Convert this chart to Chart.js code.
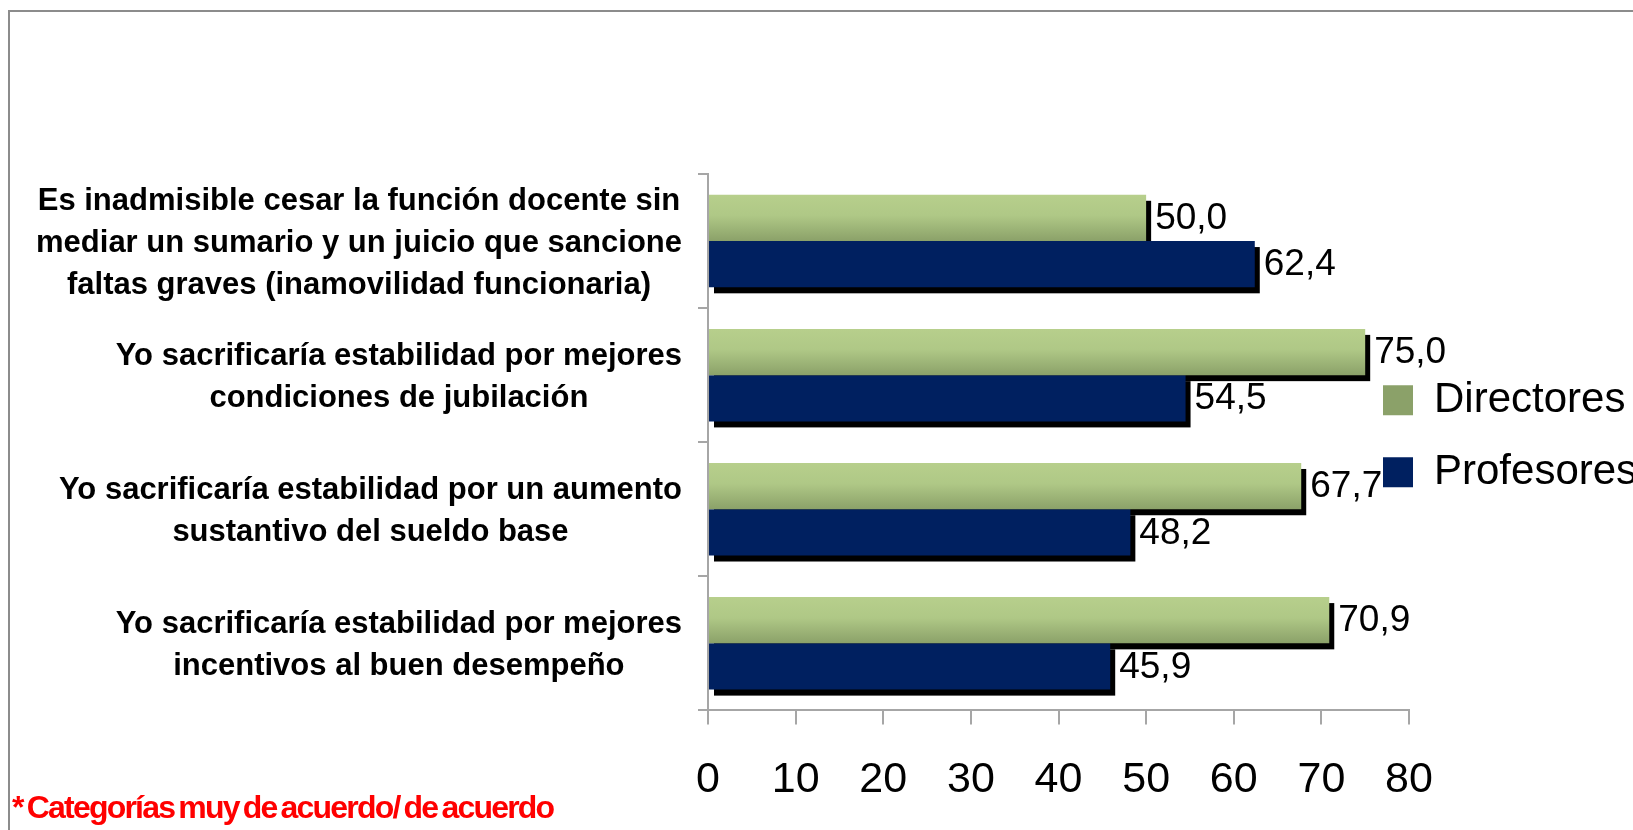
<!DOCTYPE html>
<html>
<head>
<meta charset="utf-8">
<script src="https://cdn.jsdelivr.net/npm/chart.js@4/dist/chart.umd.min.js"></script>
<style>
  html, body { margin: 0; padding: 0; background: #fff; }
  #marco { position: absolute; left: 8px; top: 10px; width: 1625px; height: 820px;
    border-top: 2px solid #8c8c8c; border-left: 2px solid #8c8c8c; }
  #wrap { position: absolute; left: 0; top: 0; width: 1633px; height: 830px; }
  #nota { position: absolute; left: 12px; top: 791px; color: #ff0000; font: bold 32px "Liberation Sans", Arial, sans-serif;
    letter-spacing: -1.8px; word-spacing: -3px; line-height: 1; white-space: nowrap; }
</style>
</head>
<body>
<div id="marco"></div>
<div id="wrap"><canvas id="grafica"></canvas></div>
<div id="nota">* Categorías muy de acuerdo/ de acuerdo</div>
<script>
// categorías (cada una en varias líneas, como en el original)
const categorias = [
  ["Es inadmisible cesar la función docente sin", "mediar un sumario y un juicio que sancione", "faltas graves (inamovilidad funcionaria)"],
  ["Yo sacrificaría estabilidad por mejores", "condiciones de jubilación"],
  ["Yo sacrificaría estabilidad por un aumento", "sustantivo del sueldo base"],
  ["Yo sacrificaría estabilidad por mejores", "incentivos al buen desempeño"]
]
const directores = [50.0, 75.0, 67.7, 70.9]
const profesores = [62.4, 54.5, 48.2, 45.9]
const ejeMin = 0
const ejeMax = 80
const ejePaso = 10

const fuente = "'Liberation Sans', Arial, sans-serif"
Chart.defaults.font.family = fuente
Chart.defaults.color = '#000'

const catPct = 0.69

// degradado verde de las barras de directores
function verdeDegradado(context) {
  const chart = context.chart
  const y = chart.scales.y
  if (context.type !== 'data' || !y || !chart.chartArea) return '#a6bf7e'
  const centro = y.getPixelForValue(context.dataIndex)
  const alto = (y.height / categorias.length) * catPct / 2
  const g = chart.ctx.createLinearGradient(0, centro - alto, 0, centro)
  g.addColorStop(0, '#b7cf8c')
  g.addColorStop(0.45, '#afc886')
  g.addColorStop(1, '#8ba169')
  return g
}

// sombra negra detrás de cada barra
const sombra = {
  id: 'sombra',
  beforeDatasetsDraw(chart) {
    const ctx = chart.ctx
    ctx.save()
    ctx.fillStyle = '#000'
    chart.data.datasets.forEach((ds, i) => {
      chart.getDatasetMeta(i).data.forEach(bar => {
        const {x, y, base, height} = bar.getProps(['x', 'y', 'base', 'height'], true)
        ctx.fillRect(Math.min(x, base) + 5, y - height / 2 + 6, Math.abs(x - base), height)
      })
    })
    ctx.restore()
  }
}

// etiquetas de valor con coma decimal
const etiquetasValor = {
  id: 'etiquetasValor',
  afterDatasetsDraw(chart) {
    const ctx = chart.ctx
    ctx.save()
    ctx.font = '37px ' + fuente
    ctx.fillStyle = '#000'
    ctx.textAlign = 'left'
    ctx.textBaseline = 'middle'
    chart.data.datasets.forEach((ds, i) => {
      chart.getDatasetMeta(i).data.forEach((bar, j) => {
        const {x, y} = bar.getProps(['x', 'y'], true)
        ctx.fillText(ds.data[j].toFixed(1).replace('.', ','), x + 9, y + 1)
      })
    })
    ctx.restore()
  }
}

// etiquetas del eje y: bloque alineado al eje, líneas centradas
const etiquetasEje = {
  id: 'etiquetasEje',
  afterDraw(chart) {
    const ctx = chart.ctx
    const y = chart.scales.y
    ctx.save()
    ctx.font = 'bold 31px ' + fuente
    ctx.fillStyle = '#000'
    ctx.textAlign = 'center'
    ctx.textBaseline = 'middle'
    categorias.forEach((lineas, i) => {
      const ancho = Math.max(...lineas.map(l => ctx.measureText(l).width))
      const cx = y.right - 26 - ancho / 2
      const cy = y.getPixelForValue(i) + 2
      lineas.forEach((l, k) => {
        ctx.fillText(l, cx, cy + (k - (lineas.length - 1) / 2) * 42)
      })
    })
    ctx.restore()
  }
}

// la leyenda se superpone un poco sobre el borde derecho del gráfico
const moverLeyenda = {
  id: 'moverLeyenda',
  afterLayout(chart) {
    const lg = chart.legend
    lg.left = chart.chartArea.right - 56
    lg.right = chart.width
    lg.width = lg.right - lg.left
    lg.top = chart.chartArea.top
    lg.bottom = chart.chartArea.bottom - 12
    lg.height = lg.bottom - lg.top
  }
}

new Chart(document.getElementById('grafica'), {
  type: 'bar',
  data: {
    labels: categorias,
    datasets: [
      {
        label: 'Directores',
        data: directores,
        backgroundColor: verdeDegradado,
        barPercentage: 1,
        categoryPercentage: catPct
      },
      {
        label: 'Profesores',
        data: profesores,
        backgroundColor: '#002060',
        barPercentage: 1,
        categoryPercentage: catPct
      }
    ]
  },
  plugins: [sombra, etiquetasValor, etiquetasEje, moverLeyenda],
  options: {
    indexAxis: 'y',
    responsive: true,
    maintainAspectRatio: false,
    animation: false,
    layout: {
      padding: { top: 174, bottom: -6, left: 0, right: 0 }
    },
    plugins: {
      tooltip: { enabled: false },
      legend: {
        position: 'right',
        maxWidth: 224,
        labels: {
          font: { size: 42 },
          color: '#000',
          boxWidth: 30,
          boxHeight: 30,
          padding: 30
        }
      }
    },
    scales: {
      x: {
        min: ejeMin,
        max: ejeMax,
        ticks: { stepSize: ejePaso, font: { size: 43 }, color: '#000', padding: 30 },
        grid: { drawOnChartArea: false, tickLength: 14, color: '#a6a6a6', lineWidth: 2 },
        border: { color: '#a6a6a6', width: 2 }
      },
      y: {
        ticks: { display: false },
        grid: { drawOnChartArea: false, tickLength: 10, color: '#a6a6a6', lineWidth: 2, offset: true },
        border: { color: '#a6a6a6', width: 2 },
        afterFit(scale) { scale.width = 708 }
      }
    }
  }
})
</script>
</body>
</html>
